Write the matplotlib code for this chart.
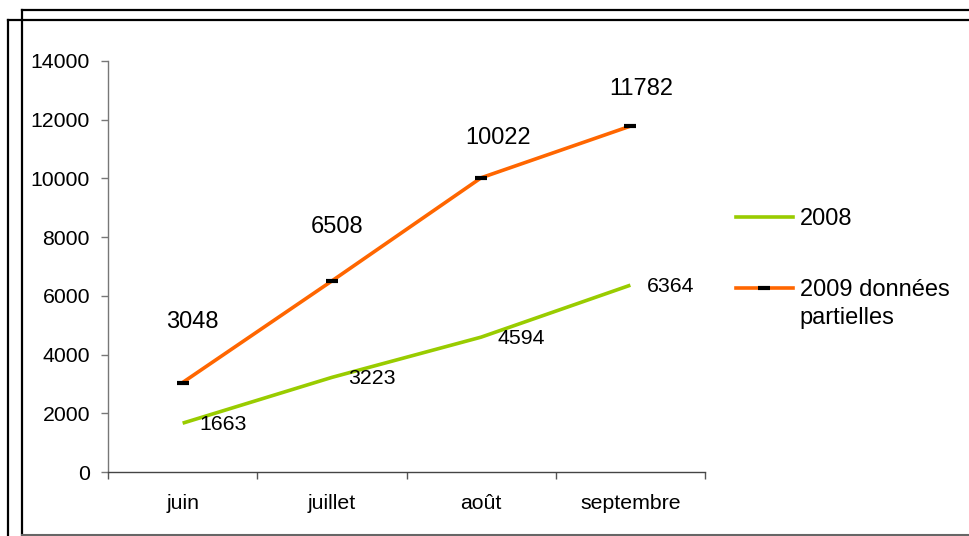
import matplotlib
matplotlib.use("Agg")
import matplotlib.pyplot as plt
from matplotlib.lines import Line2D

plt.rcParams['font.family'] = ['Liberation Sans', 'DejaVu Sans']

# ---- data ----
months = ["juin", "juillet", "août", "septembre"]
values_2008 = [1663, 3223, 4594, 6364]
values_2009 = [3048, 6508, 10022, 11782]
label_2008 = "2008"
label_2009 = "2009 données"
label_2009_line2 = "partielles"
y_ticks = [0, 2000, 4000, 6000, 8000, 10000, 12000, 14000]

# label offsets for 2009 (points)
offsets_2009 = [(7, 43.5), (4, 38.5), (12, 28.5), (8, 26.5)]

W, H = 969, 536
fig = plt.figure(figsize=(W / 100, H / 100), dpi=100)

def fx(px):
    return px / W

def fy(py):
    return 1 - py / H

ax = fig.add_axes([fx(108), fy(472), fx(705) - fx(108), fy(61) - fy(472)])

x = list(range(len(months)))
green = "#99CC00"
orange = "#FF6600"

ax.plot(x, values_2008, color=green, lw=2.6, solid_capstyle="butt")
ax.plot(x, values_2009, color=orange, lw=2.6, solid_capstyle="butt",
        marker="_", markersize=8, mew=3, mec="black", mfc="black")

for xi, v in zip(x, values_2008):
    ax.annotate(str(v), (xi, v), xytext=(12, -1), textcoords="offset points",
                ha="left", va="center", fontsize=15.3, color="black")
for xi, v, off in zip(x, values_2009, offsets_2009):
    ax.annotate(str(v), (xi, v), xytext=off, textcoords="offset points",
                ha="center", va="center", fontsize=17, color="black")

ax.set_xlim(-0.5, len(months) - 0.5)
ax.set_ylim(0, 14000)
ax.set_yticks(y_ticks)
ax.set_yticklabels([str(t) for t in y_ticks])
ax.set_xticks(x)
ax.set_xticklabels(months)
ax.set_xticks([i - 0.5 for i in range(len(months) + 1)], minor=True)

ax.tick_params(axis="x", which="major", length=0, pad=16, labelsize=15.3)
ax.tick_params(axis="x", which="minor", length=5, width=1, color="#555555", direction="out")
ax.tick_params(axis="y", which="major", length=5, width=1, color="#777777", pad=8, labelsize=15.3)

for s in ["top", "right"]:
    ax.spines[s].set_visible(False)
ax.spines["left"].set_color("#777777")
ax.spines["bottom"].set_color("#444444")
ax.spines["left"].set_linewidth(1)
ax.spines["bottom"].set_linewidth(1)

# legend
handles = [
    Line2D([], [], color=green, lw=2.6),
    Line2D([], [], color=orange, lw=2.6, marker="_", markersize=8, mew=3, mec="black"),
]
leg = fig.legend(handles, [label_2008, label_2009], loc="upper left",
                 bbox_to_anchor=(fx(736), fy(208)), frameon=False, fontsize=17,
                 handlelength=2.4, handletextpad=0.3, labelspacing=2.07,
                 borderpad=0, borderaxespad=0)
fig.text(fx(799), fy(318), label_2009_line2, fontsize=17, ha="left", va="center")

# frames
lw = 1.6
fig.add_artist(Line2D([fx(22), fx(22)], [fy(10), fy(536)], color="black", lw=lw))
fig.add_artist(Line2D([fx(22), fx(969)], [fy(10), fy(10)], color="black", lw=lw))
fig.add_artist(Line2D([fx(8), fx(8)], [fy(20), fy(536)], color="black", lw=lw))
fig.add_artist(Line2D([fx(8), fx(969)], [fy(20), fy(20)], color="black", lw=lw))
fig.add_artist(Line2D([fx(22), fx(969)], [fy(534.5), fy(534.5)], color="#666666", lw=1.5))

fig.savefig("out.png", dpi=100)
